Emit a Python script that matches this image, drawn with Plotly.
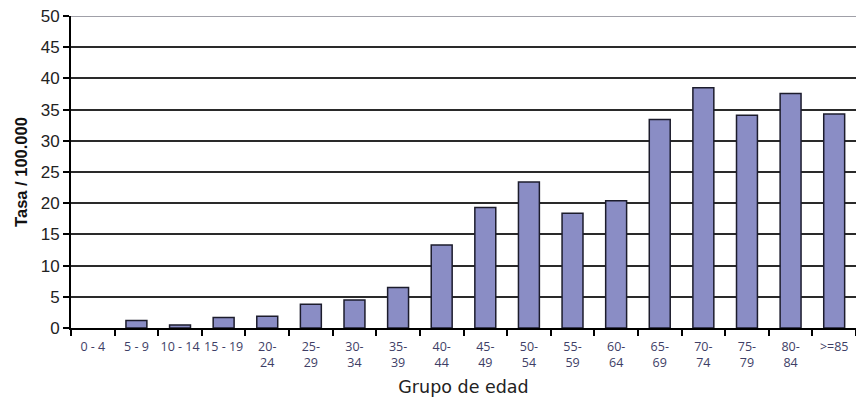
import plotly.graph_objects as go

# Age groups and rates per 100,000 inhabitants
grupos = ["0 - 4", "5 - 9", "10 - 14", "15 - 19", "20-<br>24", "25-<br>29",
          "30-<br>34", "35-<br>39", "40-<br>44", "45-<br>49", "50-<br>54",
          "55-<br>59", "60-<br>64", "65-<br>69", "70-<br>74", "75-<br>79",
          "80-<br>84", ">=85"]
tasas = [0, 1.2, 0.5, 1.7, 1.9, 3.8, 4.5, 6.5, 13.3, 19.3, 23.4,
         18.4, 20.4, 33.4, 38.5, 34.1, 37.6, 34.3]
y_ticks = [0, 5, 10, 15, 20, 25, 30, 35, 40, 45, 50]

# Empty groups get no outline so nothing is drawn for them
bordes = [0 if v == 0 else 1.5 for v in tasas]

fig = go.Figure()
fig.add_trace(go.Bar(
    x=grupos, y=tasas,
    marker=dict(color="#8a8dc5", line=dict(color="#1c1c2c", width=bordes)),
))

fig.update_layout(
    width=856, height=405,
    margin=dict(l=71, r=0, t=16, b=77),
    paper_bgcolor="white", plot_bgcolor="white",
    bargap=0.52,
    showlegend=False,
    font=dict(family="Liberation Sans, Arial, sans-serif", color="#222"),
)

fig.update_yaxes(
    range=[0, 50], tickvals=y_ticks,
    showgrid=True, gridcolor="#2a2a2a", gridwidth=1.5,
    showline=True, linecolor="black", linewidth=2,
    ticks="outside", ticklen=6, tickcolor="black", tickwidth=1.5,
    tickfont=dict(size=17, color="#222"),
    zeroline=False,
    title=dict(text="<b>Tasa / 100.000</b>", font=dict(size=16.5, color="#111"), standoff=9),
)

fig.update_xaxes(
    type="category", tickangle=0,
    showline=True, linecolor="black", linewidth=2,
    ticks="outside", tickson="boundaries", ticklen=6, tickcolor="black", tickwidth=1.5,
    tickfont=dict(family="Open Sans, sans-serif", size=12.5, color="#3e3e66"),
    ticklabelstandoff=6,
    showgrid=False,
    title=dict(text="Grupo de edad", font=dict(family="DejaVu Sans, sans-serif", size=17.5, color="#222"), standoff=10),
)

# Lighter line for the top of the value range
fig.add_shape(type="line", xref="paper", yref="y", x0=0, x1=1, y0=50, y1=50,
              line=dict(color="#a0a0a8", width=2))

fig.write_html("out.html")
